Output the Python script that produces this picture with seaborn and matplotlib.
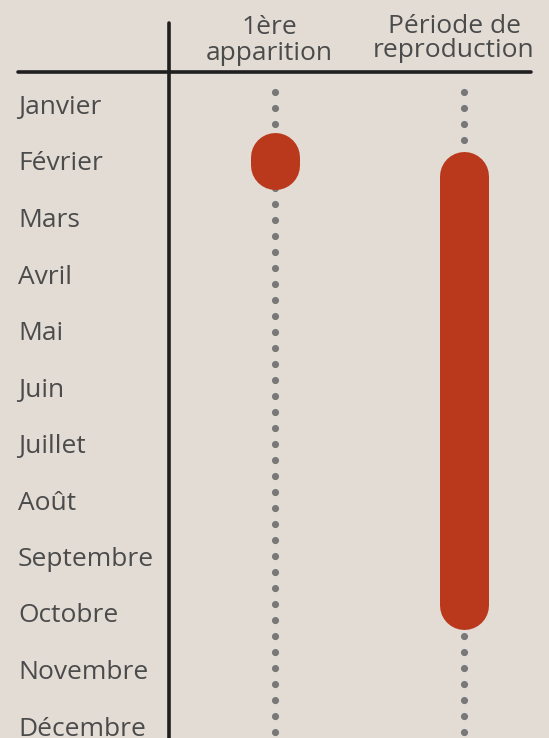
import numpy as np
import pandas as pd
import matplotlib
matplotlib.use("Agg")
import matplotlib.pyplot as plt
from matplotlib.lines import Line2D
import seaborn as sns

# ---------------- data ----------------
months = ["Janvier", "Février", "Mars", "Avril", "Mai", "Juin", "Juillet",
          "Août", "Septembre", "Octobre", "Novembre", "Décembre"]
columns = ["1ère\napparition", "Période de\nreproduction"]
first_appearance = ["Février"]              # column 0
repro_start = ["Février"]                   # column 1
repro_end = ["Octobre"]

# ---------------- style ----------------
W, H, DPI = 549, 738, 100
BG = "#e2dcd5"
RED = "#ba391d"
DOT = "#787878"
TXT = "#4b4b4b"
LINE = "#1f1f1f"
FONT = ["Open Sans", "DejaVu Sans"]

sns.set_theme(style="white")
plt.rcParams["font.family"] = FONT
plt.rcParams["lines.scale_dashes"] = False

fig = plt.figure(figsize=(W / DPI, H / DPI), dpi=DPI, facecolor=BG)
ax = fig.add_axes([0, 0, 1, 1])
ax.set_facecolor(BG)
ax.set_axis_off()

# pixel layout -> data coordinates
COL_PX0, COL_STEP = 275.0, 189.0     # column centres in px
MON_PX0, MON_STEP = 104.5, 56.5      # month centres in px
def xd(px): return (px - COL_PX0) / COL_STEP
def yd(py): return (py - MON_PX0) / MON_STEP
ax.set_xlim(xd(0), xd(W))
ax.set_ylim(yd(H), yd(0))

mi = {m: i for i, m in enumerate(months)}

# dotted guides
for c in range(len(columns)):
    ax.plot([c, c], [yd(92.3), yd(H + 20)], color=DOT, lw=5.2,
            linestyle=(0, (0.001, 11.52)), dash_capstyle="round", zorder=1)

# red marks
LW = 49 * 72 / DPI
rows = []
for k, m in enumerate(first_appearance):
    rows.append(dict(col=0, month=mi[m] - 0.062, seg=f"a{k}"))
    rows.append(dict(col=0, month=mi[m] + 0.062, seg=f"a{k}"))
for k, (s, e) in enumerate(zip(repro_start, repro_end)):
    rows.append(dict(col=1, month=mi[s] + 0.265, seg=f"r{k}"))
    rows.append(dict(col=1, month=mi[e] - 0.14, seg=f"r{k}"))
df = pd.DataFrame(rows)
for seg, g in df.groupby("seg"):
    sns.lineplot(data=g, x="col", y="month", estimator=None, sort=False,
                 orient="y", color=RED, lw=LW, solid_capstyle="round",
                 ax=ax, zorder=3, legend=False)
ax.set_xlim(xd(0), xd(W))
ax.set_ylim(yd(H), yd(0))
ax.set_axis_off()

# month labels
for i, m in enumerate(months):
    ax.text(xd(18), i + 9.5 / MON_STEP, m, ha="left", va="baseline",
            fontsize=19, color=TXT, family=FONT)

# headers
header_x = [269.5, 454.0]
header_base = [(34.3, 60.0), (32.7, 57.3)]
for c, label in enumerate(columns):
    for line, b in zip(label.split("\n"), header_base[c]):
        fig.text(header_x[c] / W, 1 - b / H, line, ha="center", va="baseline",
                 fontsize=19, color=TXT, family=FONT)

# table rules
fig.add_artist(Line2D([18 / W, 531 / W], [1 - 72 / H, 1 - 72 / H],
                      color=LINE, lw=2.6, solid_capstyle="round"))
fig.add_artist(Line2D([168.7 / W, 168.7 / W], [1 - 22.7 / H, 0],
                      color=LINE, lw=2.6, solid_capstyle="round"))

fig.savefig("out.png", dpi=DPI, facecolor=BG)
